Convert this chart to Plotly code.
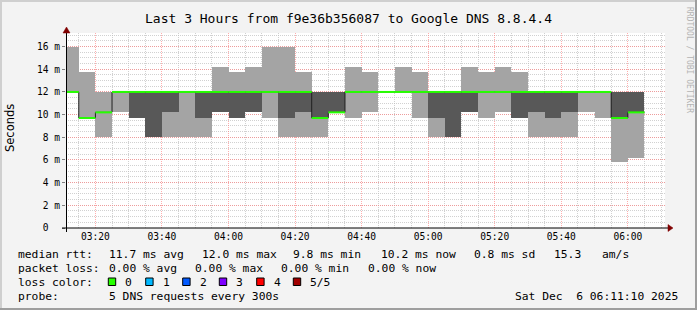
import plotly.graph_objects as go
from datetime import datetime, timedelta

# ---------------- data ----------------
DATE = "2025-12-06"
interval_starts = ["03:10", "03:15", "03:20", "03:25", "03:30", "03:35", "03:40", "03:45",
                   "03:50", "03:55", "04:00", "04:05", "04:10", "04:15", "04:20", "04:25",
                   "04:30", "04:35", "04:40", "04:45", "04:50", "04:55", "05:00", "05:05",
                   "05:10", "05:15", "05:20", "05:25", "05:30", "05:35", "05:40", "05:45",
                   "05:50", "05:55", "06:00"]
# sorted ping rtts (ms) per 5-min interval
ping_min = [12.0, 9.7, 8.0, 10.2, 9.7, 8.0, 8.0, 8.0, 8.0, 10.2, 9.7, 10.2, 9.7, 8.0, 8.0, 8.0,
            10.2, 9.7, 10.2, 12.0, 12.0, 9.7, 8.0, 8.0, 10.2, 9.7, 10.2, 9.7, 8.0, 8.0, 8.0, 10.2,
            9.7, 5.8, 6.2]
ping_2 = [12.0, 9.7, 10.2, 12.0, 9.7, 8.0, 10.2, 12.0, 9.7, 10.2, 9.7, 10.2, 12.0, 9.7, 10.2, 9.7,
          10.2, 12.0, 12.0, 12.0, 12.0, 12.0, 9.7, 8.0, 10.2, 12.0, 12.0, 9.7, 10.2, 9.7, 10.2, 12.0,
          12.0, 9.7, 10.2]
median = [12.0, 9.7, 10.2, 12.0, 12.0, 12.0, 12.0, 12.0, 12.0, 12.0, 12.0, 12.0, 12.0, 12.0, 12.0, 9.7,
          10.2, 12.0, 12.0, 12.0, 12.0, 12.0, 12.0, 12.0, 12.0, 12.0, 12.0, 12.0, 12.0, 12.0, 12.0, 12.0,
          12.0, 9.7, 10.2]
ping_4 = [12.0, 9.7, 10.2, 12.0, 12.0, 12.0, 12.0, 12.0, 12.0, 12.0, 12.0, 12.0, 12.0, 12.0, 12.0, 12.0,
          12.0, 12.0, 12.0, 12.0, 12.0, 12.0, 12.0, 12.0, 12.0, 12.0, 12.0, 12.0, 12.0, 12.0, 12.0, 12.0,
          12.0, 12.0, 12.0]
ping_max = [16.0, 13.8, 12.0, 12.0, 12.0, 12.0, 12.0, 12.0, 12.0, 14.2, 13.8, 14.2, 16.0, 16.0, 13.8, 12.0,
            12.0, 14.2, 13.8, 12.0, 14.2, 13.8, 12.0, 12.0, 14.2, 13.8, 14.2, 13.8, 12.0, 12.0, 12.0, 12.0,
            12.0, 12.0, 12.0]

y_tick_vals = [0, 2, 4, 6, 8, 10, 12, 14, 16]
y_tick_text = ["0\u00a0\u00a0", "2\u00a0m", "4\u00a0m", "6\u00a0m", "8\u00a0m", "10\u00a0m",
               "12\u00a0m", "14\u00a0m", "16\u00a0m"]

title_text = "Last 3 Hours from f9e36b356087 to Google DNS 8.8.4.4"
loss_labels = ["0", "1", "2", "3", "4", "5/5"]
loss_colors = ["#26ff00", "#00b8ff", "#0059ff", "#7e00ff", "#ff0000", "#a10000"]

# ---------------- helpers ----------------
STEP = timedelta(minutes=5)
starts = [datetime.fromisoformat(f"{DATE} {t}:00") for t in interval_starts]
ends = [s + STEP for s in starts]
centers = [s + STEP / 2 for s in starts]

W, H = 697, 310
ML, MR, MT, MB = 66, 32, 33, 82
PW, PH = W - ML - MR, H - MT - MB


def px(x):
    return (x - ML) / PW


def py(y):
    return (H - MB - y) / PH


MONO = "DejaVu Sans Mono"

fig = go.Figure()

# smoke outer band (min..max)
fig.add_trace(go.Bar(
    x=centers, base=ping_min, y=[b - a for a, b in zip(ping_min, ping_max)],
    width=[STEP.total_seconds() * 1000] * len(centers),
    marker=dict(color="#a4a4a4", line=dict(width=0)), hoverinfo="skip", showlegend=False))
# smoke inner band (2nd..4th)
fig.add_trace(go.Bar(
    x=centers, base=ping_2, y=[b - a for a, b in zip(ping_2, ping_4)],
    width=[STEP.total_seconds() * 1000] * len(centers),
    marker=dict(color="#585858", line=dict(width=0)), hoverinfo="skip", showlegend=False))

# thin dark median step line
fig.add_trace(go.Scatter(
    x=starts + [ends[-1]], y=median + [median[-1]], mode="lines",
    line=dict(color="#202020", width=1, shape="hv"), hoverinfo="skip", showlegend=False))

# loss-coloured median segments
gx, gy = [], []
for s, e, m in zip(starts, ends, median):
    gx += [s, e, None]
    gy += [m, m, None]
fig.add_trace(go.Scatter(
    x=gx, y=gy, mode="lines", line=dict(color=loss_colors[0], width=2),
    hoverinfo="skip", showlegend=False))

MAJOR_GRID = "rgba(255,120,120,0.6)"
MINOR_GRID = "rgba(190,190,190,0.7)"

fig.update_xaxes(
    type="date",
    range=[f"{DATE} 03:11:10", f"{DATE} 06:11:10"],
    tick0=f"{DATE} 03:20:00", dtick=20 * 60 * 1000, tickformat="%H:%M",
    showgrid=True, gridcolor=MAJOR_GRID, gridwidth=1, griddash="1px,1px",
    minor=dict(tick0=f"{DATE} 03:10:00", dtick=5 * 60 * 1000, showgrid=True,
               gridcolor=MINOR_GRID, gridwidth=1, griddash="1px,1px"),
    showline=False, zeroline=False, ticks="",
    tickfont=dict(family=MONO, size=9.6, color="#000000"),
    ticklabelstandoff=1,
)
fig.update_yaxes(
    range=[0, 17.2], tickmode="array", tickvals=y_tick_vals, ticktext=y_tick_text,
    showgrid=True, gridcolor=MAJOR_GRID, gridwidth=1, griddash="1px,1px",
    minor=dict(dtick=0.5, tick0=0, showgrid=True, gridcolor=MINOR_GRID, gridwidth=1,
               griddash="1px,1px"),
    showline=False, zeroline=False, ticks="outside", ticklen=3, tickcolor="#808080",
    tickfont=dict(family=MONO, size=9.6, color="#000000"),
)

shapes = []
# frame shading
shapes.append(dict(type="line", xref="paper", yref="paper", x0=px(1), x1=px(1), y0=py(0), y1=py(H),
                   line=dict(color="#cfcfcf", width=2)))
shapes.append(dict(type="line", xref="paper", yref="paper", x0=px(0), x1=px(W), y0=py(1), y1=py(1),
                   line=dict(color="#cfcfcf", width=2)))
shapes.append(dict(type="line", xref="paper", yref="paper", x0=px(W - 1), x1=px(W - 1), y0=py(0), y1=py(H),
                   line=dict(color="#9e9e9e", width=2)))
shapes.append(dict(type="line", xref="paper", yref="paper", x0=px(0), x1=px(W), y0=py(H - 1), y1=py(H - 1),
                   line=dict(color="#9e9e9e", width=2)))
# axes with arrows
shapes.append(dict(type="line", xref="paper", yref="paper", x0=px(62), x1=px(670), y0=py(228), y1=py(228),
                   line=dict(color="#000000", width=1)))
shapes.append(dict(type="line", xref="paper", yref="paper", x0=px(66.5), x1=px(66.5), y0=py(232), y1=py(31),
                   line=dict(color="#000000", width=1)))
shapes.append(dict(type="path", xref="paper", yref="paper",
                   path=f"M {px(668)} {py(224.5)} L {px(673)} {py(228)} L {px(668)} {py(231.5)} Z",
                   fillcolor="#800000", line=dict(color="#800000", width=0.5)))
shapes.append(dict(type="path", xref="paper", yref="paper",
                   path=f"M {px(63)} {py(33)} L {px(66.5)} {py(27)} L {px(70)} {py(33)} Z",
                   fillcolor="#800000", line=dict(color="#800000", width=0.5)))

annotations = []


def text(x, y, s, size=11.3, anchor="left", color="#000000", family=MONO, angle=0):
    annotations.append(dict(xref="paper", yref="paper", x=px(x), y=py(y), text=s.replace(" ", "\u00a0"),
                            showarrow=False, xanchor=anchor, yanchor="middle", textangle=angle,
                            font=dict(family=family, size=size, color=color)))


text(348, 18, title_text, size=13, anchor="center")
text(10, 128, "Seconds", size=11.5, anchor="center", family="DejaVu Sans", angle=-90)
text(689, 60, "RRDTOOL / TOBI OETIKER", size=8, anchor="center", color="#b4b4b4", angle=90)

# legend rows
text(16, 254, "median rtt:")
text(107.3, 254, "11.7 ms avg")
text(200, 254, "12.0 ms max")
text(291, 254, "9.8 ms min")
text(379.3, 254, "10.2 ms now")
text(472.3, 254, "0.8 ms sd")
text(552, 254, "15.3")
text(600, 254, "am/s")

text(16, 268, "packet loss:")
text(107.3, 268, "0.00 % avg")
text(193.3, 268, "0.00 % max")
text(279.3, 268, "0.00 % min")
text(365.7, 268, "0.00 % now")

text(16, 282, "loss color:")
box_x = [108.3, 145.7, 182.7, 219.3, 256.7, 293.3]
for bx, lab, col in zip(box_x, loss_labels, loss_colors):
    shapes.append(dict(type="rect", xref="paper", yref="paper", x0=px(bx), x1=px(bx + 7.4),
                       y0=py(285.5), y1=py(278), fillcolor=col, line=dict(color="#000000", width=1)))
    text(bx + 15, 282, lab)

text(16, 296, "probe:")
text(107.3, 296, "5 DNS requests every 300s")
text(680, 296, "Sat Dec  6 06:11:10 2025", anchor="right")

fig.update_layout(
    width=W, height=H, margin=dict(l=ML, r=MR, t=MT, b=MB, pad=0),
    paper_bgcolor="#f3f3f3", plot_bgcolor="#ffffff",
    barmode="overlay", bargap=0, showlegend=False,
    shapes=shapes, annotations=annotations,
)

fig.write_html("out.html")
